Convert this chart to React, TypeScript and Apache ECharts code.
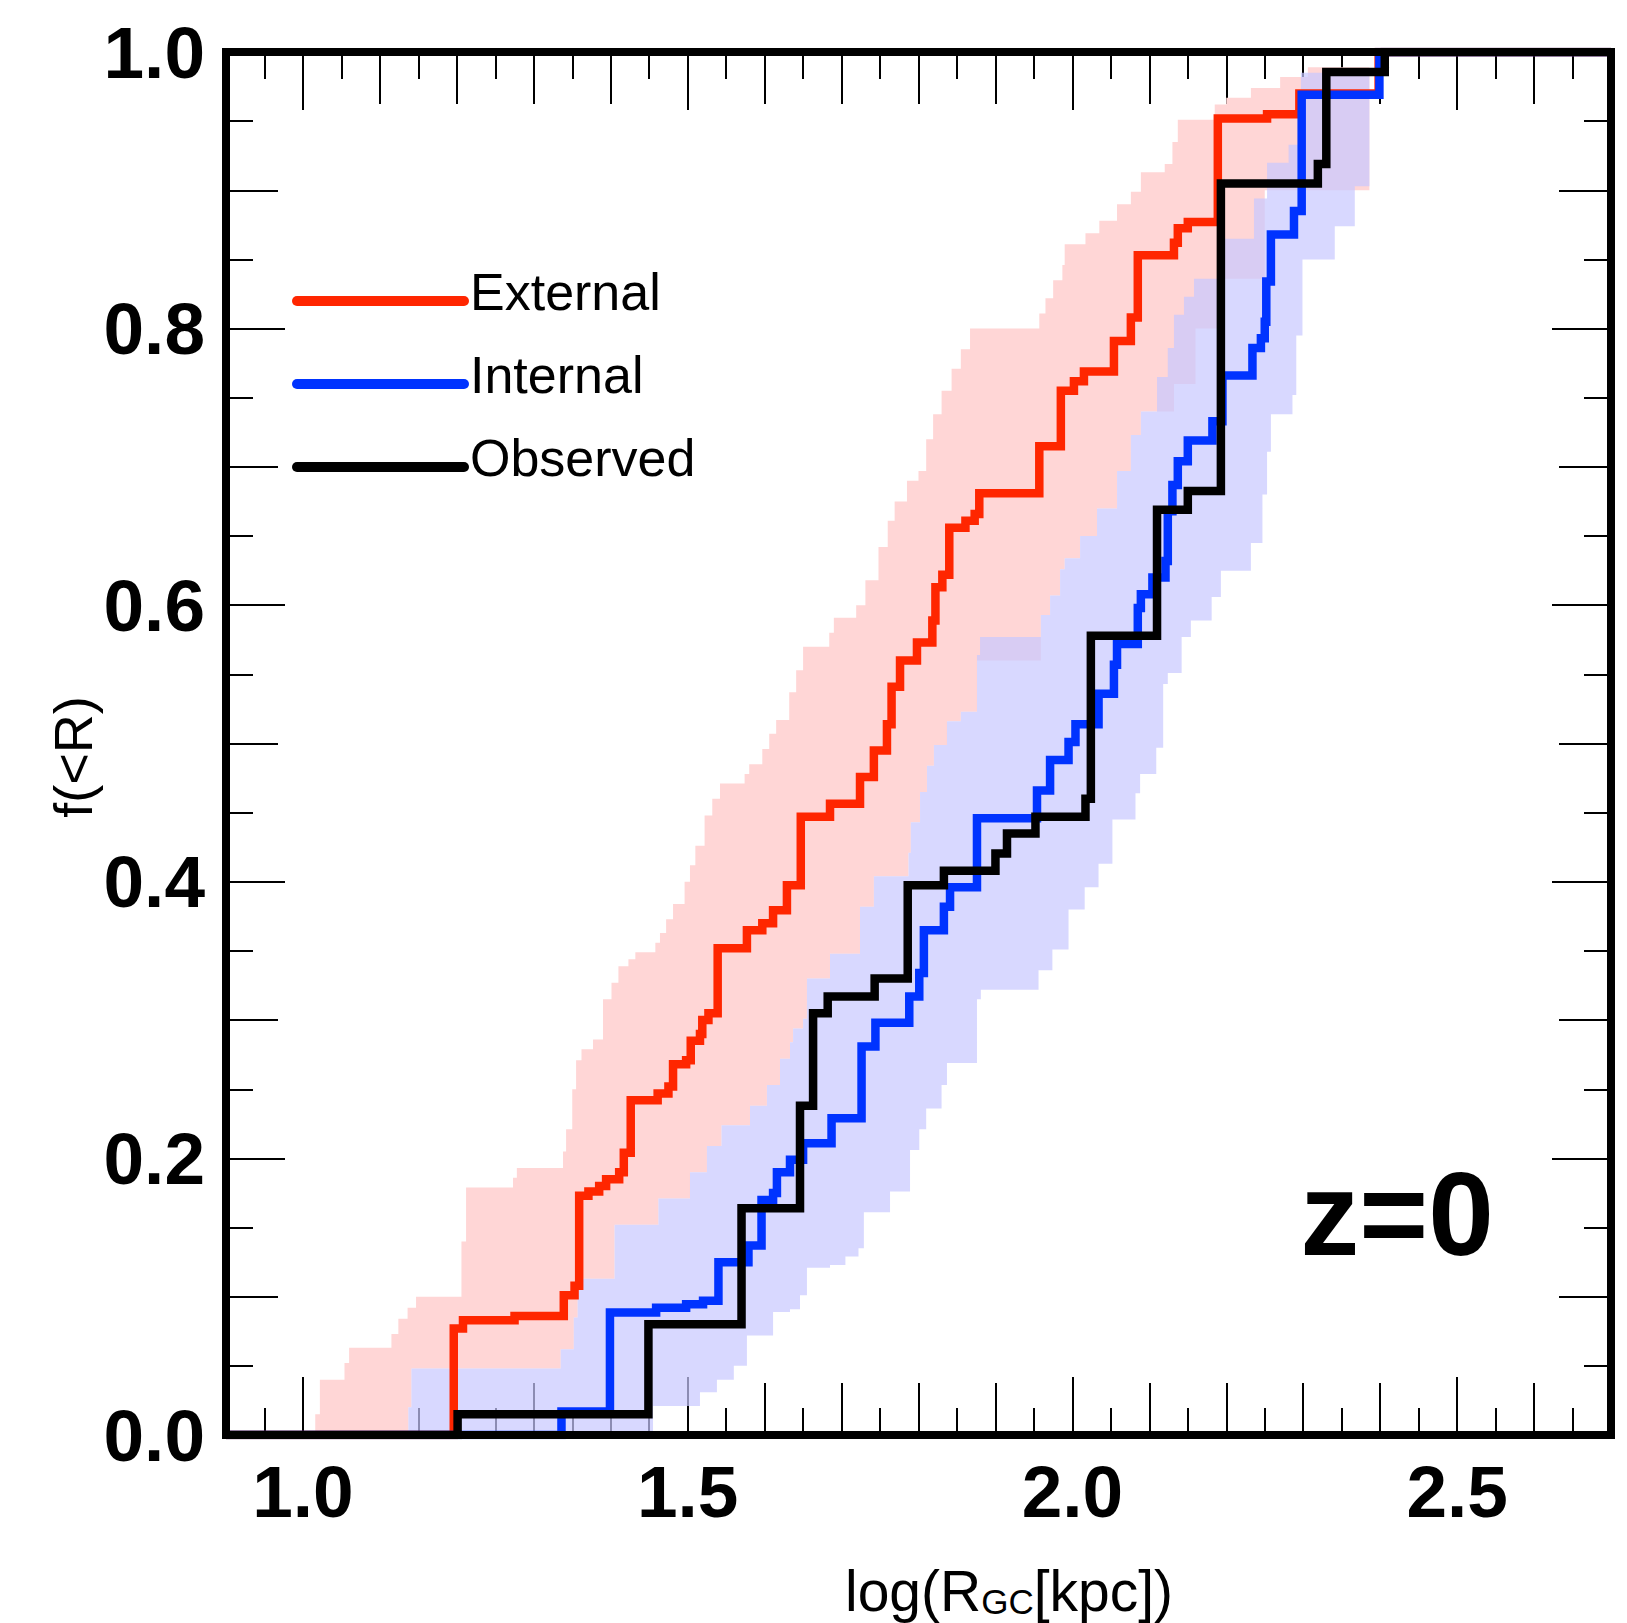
import React, { useEffect, useRef } from 'react';
import * as echarts from 'echarts';

// ---- axis ranges & tick labels ----
const xMin = 0.9;
const xMax = 2.7;
const yMin = 0;
const yMax = 1;
const xTickLabels = [1.0, 1.5, 2.0, 2.5];
const yTickLabels = [0.0, 0.2, 0.4, 0.6, 0.8, 1.0];

// ---- step curves: [x where step happens, value after step] ----
const externalSteps: [number, number][] = [
  [0.9, 0], [1.196, 0.077], [1.208, 0.083], [1.275, 0.086], [1.339, 0.101], [1.353, 0.108],
  [1.359, 0.173], [1.371, 0.176], [1.385, 0.18], [1.394, 0.185], [1.411, 0.19], [1.417, 0.204],
  [1.426, 0.242], [1.461, 0.247], [1.475, 0.252], [1.481, 0.268], [1.498, 0.271], [1.504, 0.285],
  [1.516, 0.29], [1.519, 0.3], [1.527, 0.305], [1.539, 0.352], [1.577, 0.365], [1.597, 0.37],
  [1.611, 0.3795], [1.629, 0.3975], [1.647, 0.447], [1.685, 0.4565], [1.724, 0.4757], [1.742, 0.495],
  [1.759, 0.514], [1.765, 0.541], [1.776, 0.56], [1.798, 0.573], [1.818, 0.589], [1.822, 0.613],
  [1.831, 0.622], [1.84, 0.656], [1.861, 0.661], [1.873, 0.666], [1.879, 0.681], [1.957, 0.715],
  [1.985, 0.755], [2.002, 0.762], [2.015, 0.769], [2.054, 0.791], [2.076, 0.808], [2.085, 0.853],
  [2.132, 0.862], [2.137, 0.8725], [2.15, 0.877], [2.189, 0.952], [2.253, 0.955], [2.295, 0.97],
  [2.398, 1.0],
];
const internalSteps: [number, number][] = [
  [0.9, 0], [1.336, 0.017], [1.399, 0.0885], [1.459, 0.092], [1.498, 0.0945], [1.52, 0.097],
  [1.54, 0.125], [1.579, 0.137], [1.596, 0.17], [1.611, 0.175], [1.616, 0.19], [1.633, 0.199],
  [1.65, 0.211], [1.687, 0.229], [1.726, 0.281], [1.744, 0.298], [1.788, 0.317], [1.801, 0.334],
  [1.807, 0.365], [1.833, 0.382], [1.841, 0.396], [1.876, 0.446], [1.954, 0.466], [1.971, 0.488],
  [1.995, 0.501], [2.004, 0.514], [2.034, 0.536], [2.054, 0.557], [2.058, 0.572], [2.085, 0.598],
  [2.089, 0.608], [2.104, 0.62], [2.121, 0.632], [2.124, 0.668], [2.13, 0.687], [2.137, 0.704],
  [2.15, 0.719], [2.182, 0.733], [2.195, 0.766], [2.234, 0.786], [2.245, 0.793], [2.25, 0.805],
  [2.252, 0.834], [2.258, 0.868], [2.288, 0.885], [2.298, 0.969], [2.399, 1.0],
];
const observedSteps: [number, number][] = [
  [0.9, 0], [1.201, 0.015], [1.449, 0.08], [1.57, 0.164], [1.646, 0.238], [1.663, 0.305],
  [1.682, 0.317], [1.743, 0.33], [1.786, 0.3975], [1.833, 0.408], [1.9, 0.4205], [1.915, 0.435],
  [1.952, 0.447], [2.017, 0.46], [2.024, 0.578], [2.11, 0.669], [2.15, 0.6825], [2.193, 0.905],
  [2.319, 0.919], [2.33, 0.9856], [2.406, 1.0],
];

// ---- shaded envelopes (upper / lower step boundaries) ----
const externalBandUpper: [number, number][] = [
  [1.016, 0.015], [1.022, 0.04], [1.054, 0.052], [1.06, 0.063], [1.115, 0.073], [1.124, 0.084],
  [1.136, 0.092], [1.147, 0.1], [1.206, 0.14], [1.212, 0.179], [1.273, 0.186], [1.278, 0.193],
  [1.338, 0.205], [1.342, 0.221], [1.35, 0.25], [1.355, 0.271], [1.362, 0.279], [1.377, 0.286],
  [1.39, 0.315], [1.401, 0.327], [1.41, 0.339], [1.423, 0.344], [1.432, 0.349], [1.458, 0.356],
  [1.464, 0.363], [1.472, 0.373], [1.481, 0.384], [1.496, 0.4], [1.503, 0.412], [1.51, 0.426],
  [1.522, 0.448], [1.532, 0.46], [1.542, 0.471], [1.574, 0.478], [1.58, 0.485], [1.597, 0.496],
  [1.606, 0.507], [1.615, 0.517], [1.632, 0.537], [1.641, 0.553], [1.65, 0.57], [1.684, 0.58],
  [1.69, 0.591], [1.719, 0.6], [1.731, 0.618], [1.748, 0.642], [1.76, 0.661], [1.769, 0.675],
  [1.785, 0.69], [1.8, 0.697], [1.81, 0.72], [1.819, 0.738], [1.83, 0.755], [1.843, 0.771],
  [1.855, 0.785], [1.867, 0.8], [1.957, 0.811], [1.965, 0.822], [1.975, 0.835], [1.987, 0.846],
  [1.99, 0.861], [2.017, 0.869], [2.035, 0.878], [2.058, 0.89], [2.076, 0.899], [2.089, 0.913],
  [2.12, 0.919], [2.13, 0.935], [2.137, 0.951], [2.185, 0.962], [2.2, 0.967], [2.232, 0.974],
  [2.27, 0.982], [2.306, 0.989],
];
const externalBandLower: [number, number][] = [
  [1.016, 0], [1.137, 0.02], [1.141, 0.048], [1.335, 0.062], [1.352, 0.085], [1.357, 0.113],
  [1.405, 0.152], [1.462, 0.171], [1.503, 0.19], [1.525, 0.209], [1.544, 0.224], [1.581, 0.238],
  [1.603, 0.253], [1.62, 0.272], [1.633, 0.284], [1.637, 0.294], [1.65, 0.301], [1.655, 0.33],
  [1.685, 0.348], [1.724, 0.382], [1.742, 0.404], [1.787, 0.421], [1.79, 0.443], [1.802, 0.465],
  [1.811, 0.484], [1.82, 0.499], [1.837, 0.516], [1.855, 0.523], [1.876, 0.56], [1.959, 0.593],
  [1.971, 0.607], [1.984, 0.626], [1.99, 0.634], [2.01, 0.65], [2.032, 0.67], [2.058, 0.697],
  [2.076, 0.723], [2.089, 0.74], [2.132, 0.76], [2.16, 0.8], [2.198, 0.836], [2.25, 0.9],
];
const externalBandEnd = 2.386;

const internalBandUpper: [number, number][] = [
  [1.137, 0.02], [1.141, 0.048], [1.335, 0.062], [1.352, 0.085], [1.357, 0.113], [1.405, 0.152],
  [1.462, 0.171], [1.503, 0.19], [1.525, 0.209], [1.544, 0.224], [1.581, 0.238], [1.603, 0.253],
  [1.62, 0.272], [1.633, 0.284], [1.637, 0.294], [1.65, 0.301], [1.655, 0.33], [1.685, 0.348],
  [1.724, 0.382], [1.742, 0.404], [1.787, 0.421], [1.79, 0.443], [1.802, 0.465], [1.811, 0.484],
  [1.82, 0.499], [1.837, 0.516], [1.855, 0.523], [1.876, 0.564], [1.88, 0.577], [1.959, 0.593],
  [1.971, 0.607], [1.984, 0.626], [1.99, 0.634], [2.01, 0.65], [2.032, 0.67], [2.058, 0.697],
  [2.076, 0.723], [2.089, 0.74], [2.11, 0.765], [2.124, 0.786], [2.132, 0.81], [2.145, 0.823],
  [2.158, 0.836], [2.197, 0.865], [2.236, 0.894], [2.253, 0.92], [2.281, 0.933], [2.297, 0.985],
];
const internalBandLower: [number, number][] = [
  [1.137, 0], [1.455, 0.021], [1.516, 0.031], [1.538, 0.04], [1.56, 0.05], [1.577, 0.072],
  [1.611, 0.089], [1.633, 0.091], [1.646, 0.101], [1.655, 0.121], [1.685, 0.123], [1.705, 0.129],
  [1.722, 0.135], [1.729, 0.161], [1.763, 0.176], [1.789, 0.206], [1.801, 0.221], [1.81, 0.236],
  [1.83, 0.253], [1.837, 0.269], [1.876, 0.315], [1.881, 0.322], [1.956, 0.336], [1.974, 0.351],
  [1.995, 0.38], [2.016, 0.396], [2.034, 0.413], [2.052, 0.445], [2.082, 0.464], [2.088, 0.478],
  [2.109, 0.497], [2.118, 0.543], [2.124, 0.551], [2.142, 0.577], [2.154, 0.589], [2.181, 0.606],
  [2.193, 0.625], [2.232, 0.645], [2.247, 0.68], [2.253, 0.711], [2.258, 0.738], [2.286, 0.752],
  [2.291, 0.795], [2.299, 0.85], [2.341, 0.874], [2.367, 0.903],
];
const internalBandEnd = 2.386;

const legendNames = ['External', 'Internal', 'Observed'];
const seriesColors = ['#ff2600', '#0033ff', '#000000'];

// ---- helpers ----
function stepPath(steps: [number, number][], xEnd: number): number[][] {
  const out: number[][] = [];
  steps.forEach(([x, y], i) => {
    if (i > 0) out.push([x, steps[i - 1][1]]);
    out.push([x, y]);
  });
  out.push([xEnd, steps[steps.length - 1][1]]);
  return out;
}

function ticks(from: number, to: number, step: number, exclude: number[] = []): number[] {
  const out: number[] = [];
  const n = Math.round((to - from) / step);
  for (let i = 0; i <= n; i++) {
    const v = Math.round((from + i * step) * 1000) / 1000;
    if (!exclude.some((e) => Math.abs(e - v) < 1e-6)) out.push(v);
  }
  return out;
}

const FONT = '"Liberation Sans", Arial, Helvetica, sans-serif';

// layout
const W = 1627;
const H = 1623;
const G_LEFT = 226;
const G_TOP = 52;
const G_RIGHT = 1611;
const G_BOTTOM = 1435;

export default function App() {
  const ref = useRef<HTMLDivElement>(null);

  useEffect(() => {
    if (!ref.current) return;
    const chart = echarts.init(ref.current, null, { renderer: 'svg' });

    const xT05 = ticks(xMin, xMax, 0.05, [xMin, xMax]);
    const xT01 = ticks(xMin, xMax, 0.1, [xMin, xMax]);
    const xT05big = xTickLabels;
    const yT005 = ticks(yMin, yMax, 0.05, [yMin, yMax]);
    const yT01 = ticks(yMin, yMax, 0.1, [yMin, yMax]);
    const yT02 = yTickLabels.filter((v) => v > yMin && v < yMax);

    const tickStyle = { color: '#000', width: 2 };
    const labelStyle = {
      fontSize: 73,
      fontWeight: 'bold' as const,
      fontFamily: FONT,
      color: '#000',
    };

    const mkX = (pos: 'bottom' | 'top', vals: number[], len: number, withLabels: boolean) => ({
      type: 'value',
      min: xMin,
      max: xMax,
      position: pos,
      axisLine: { show: false, onZero: false },
      splitLine: { show: false },
      axisTick: { show: true, inside: true, length: len, customValues: vals, lineStyle: tickStyle },
      axisLabel: withLabels
        ? {
            show: true,
            customValues: xTickLabels,
            formatter: (v: number) => v.toFixed(1),
            margin: 20,
            showMinLabel: true,
            showMaxLabel: true,
            ...labelStyle,
          }
        : { show: false },
    });
    const mkY = (pos: 'left' | 'right', vals: number[], len: number, withLabels: boolean) => ({
      type: 'value',
      min: yMin,
      max: yMax,
      position: pos,
      axisLine: { show: false, onZero: false },
      splitLine: { show: false },
      axisTick: { show: true, inside: true, length: len, customValues: vals, lineStyle: tickStyle },
      axisLabel: withLabels
        ? {
            show: true,
            customValues: yTickLabels,
            formatter: (v: number) => v.toFixed(1),
            margin: 21,
            showMinLabel: true,
            showMaxLabel: true,
            ...labelStyle,
          }
        : { show: false },
    });

    const band = (upper: [number, number][], lower: [number, number][], end: number, fill: string, z: number) => ({
      type: 'custom',
      coordinateSystem: 'cartesian2d',
      xAxisIndex: 0,
      yAxisIndex: 0,
      silent: true,
      z,
      data: [[upper[0][0], upper[0][1]]],
      renderItem: (_params: any, api: any) => {
        const up = stepPath(upper, end);
        const lo = stepPath(lower, end).reverse();
        const pts = up.concat(lo).map((p) => api.coord(p));
        return { type: 'polygon', shape: { points: pts }, style: { fill } };
      },
    });

    const curve = (name: string, steps: [number, number][], color: string, z: number) => ({
      name,
      type: 'line',
      xAxisIndex: 0,
      yAxisIndex: 0,
      data: stepPath(steps, xMax),
      showSymbol: false,
      symbol: 'none',
      clip: true,
      z,
      lineStyle: { color, width: 8.5, join: 'miter', cap: 'butt' },
      silent: true,
    });

    const legendY = [301, 384, 467];

    chart.setOption({
      animation: false,
      backgroundColor: '#ffffff',
      grid: {
        left: G_LEFT,
        top: G_TOP,
        right: W - G_RIGHT,
        bottom: H - G_BOTTOM,
        containLabel: false,
        outerBoundsMode: 'none',
        show: false,
      },
      xAxis: [
        mkX('bottom', xT05, 27, false),
        mkX('bottom', xT01, 52, false),
        mkX('bottom', xT05big, 58, true),
        mkX('top', xT05, 27, false),
        mkX('top', xT01, 52, false),
        mkX('top', xT05big, 58, false),
      ],
      yAxis: [
        mkY('left', yT005, 27, false),
        mkY('left', yT01, 52, false),
        mkY('left', yT02, 59, true),
        mkY('right', yT005, 27, false),
        mkY('right', yT01, 52, false),
        mkY('right', yT02, 59, false),
      ],
      series: [
        band(externalBandUpper, externalBandLower, externalBandEnd, '#ffd6d6', 1),
        band(internalBandUpper, internalBandLower, internalBandEnd, 'rgba(200,200,255,0.7)', 1),
        curve(legendNames[0], externalSteps, seriesColors[0], 3),
        curve(legendNames[1], internalSteps, seriesColors[1], 4),
        curve(legendNames[2], observedSteps, seriesColors[2], 5),
      ],
      graphic: [
        {
          type: 'rect',
          z: 100,
          silent: true,
          shape: { x: G_LEFT, y: G_TOP, width: G_RIGHT - G_LEFT, height: G_BOTTOM - G_TOP },
          style: { fill: 'none', stroke: '#000', lineWidth: 8 },
        },
        ...legendNames.flatMap((name, i) => [
          {
            type: 'line',
            z: 101,
            silent: true,
            shape: { x1: 297, y1: legendY[i], x2: 464, y2: legendY[i] },
            style: { stroke: seriesColors[i], lineWidth: 10, lineCap: 'round' },
          },
          {
            type: 'text',
            z: 101,
            silent: true,
            x: 470,
            y: legendY[i] - 9,
            style: {
              text: name,
              fontSize: 52,
              fontFamily: FONT,
              fill: '#000',
              align: 'left',
              verticalAlign: 'middle',
            },
          },
        ]),
        {
          type: 'text',
          z: 101,
          silent: true,
          x: 1397,
          y: 1214,
          style: {
            text: 'z=0',
            fontSize: 118,
            fontWeight: 'bold',
            fontFamily: FONT,
            fill: '#000',
            align: 'center',
            verticalAlign: 'middle',
          },
        },
        {
          type: 'text',
          z: 101,
          silent: true,
          x: 1009,
          y: 1619,
          style: {
            text: '{a|log(R}{b|GC}{a|[kpc])}',
            align: 'center',
            verticalAlign: 'bottom',
            fill: '#000',
            rich: {
              a: { fontSize: 57, fontFamily: FONT, fill: '#000', verticalAlign: 'bottom' },
              b: { fontSize: 35, fontFamily: FONT, fill: '#000', verticalAlign: 'bottom' },
            },
          },
        },
        {
          type: 'text',
          z: 101,
          silent: true,
          x: 73,
          y: 757,
          rotation: Math.PI / 2,
          style: {
            text: 'f(<R)',
            fontSize: 54,
            fontFamily: FONT,
            fill: '#000',
            align: 'center',
            verticalAlign: 'middle',
          },
        },
      ],
    });

    return () => {
      chart.dispose();
    };
  }, []);

  return (
    <div
      ref={ref}
      style={{ position: 'absolute', left: 0, top: 0, width: W, height: H, background: '#fff' }}
    />
  );
}
